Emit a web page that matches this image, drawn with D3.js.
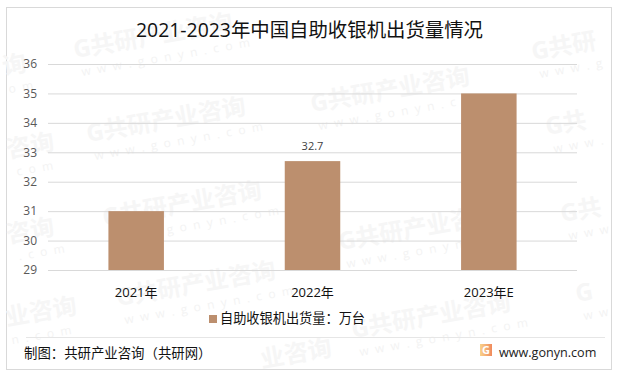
<!DOCTYPE html>
<html>
<head>
<meta charset="utf-8">
<script src="https://cdn.jsdelivr.net/npm/d3@7/dist/d3.min.js"></script>
<style>
  html, body { margin: 0; padding: 0; background: #fff; }
  text { font-family: "Open Sans", "Noto Sans CJK SC", sans-serif; }
</style>
</head>
<body>
<div id="chart"></div>
<script>
const years = ["2021年", "2022年", "2023年E"];
const shipments = [31, 32.7, 35];
const shownLabels = [false, true, false];
const yTicks = [29, 30, 31, 32, 33, 34, 35, 36];
const seriesName = "自助收银机出货量：万台";
const titleText = "2021-2023年中国自助收银机出货量情况";
const sourceText = "制图：共研产业咨询（共研网）";
const siteText = "www.gonyn.com";

const width = 619, height = 377;
const barColor = "#bc8f6e";
const gridColor = "#d9d9d9";

const svg = d3.select("#chart").append("svg")
  .attr("width", width)
  .attr("height", height)
  .style("display", "block");

// Outer frame
svg.append("rect")
  .attr("x", 6.5).attr("y", 7.5)
  .attr("width", 605).attr("height", 362)
  .attr("fill", "#fff")
  .attr("stroke", "#d9d9d9")
  .attr("stroke-width", 1);

// Watermarks sit behind everything, edge ones only carry the part that shows
const stamps = [
  [75, 58, "G共研产业咨询", "www.gonyn.com", 4],
  [88, 142, "G共研产业咨询", "www.gonyn.com", 4],
  [312, 112, "G共研产业咨询", "www.gonyn.com", 4],
  [104, 226, "G共研产业咨询", "www.gonyn.com", 4],
  [118, 306, "G共研产业咨询", "www.gonyn.com", 4],
  [340, 250, "G共研产业咨询", "www.gonyn.com", 4],
  [353, 338, "G共研产业咨询", "www.gonyn.com", 4],
  [533, 60, "G共研", "www.g", 4],
  [547, 135, "G共", "www.", 4],
  [562, 222, "G共", "www", 4],
  [577, 302, "G", "ww", 4],
  [4, 75, "询", "om", 2],
  [8, 158, "咨询", "com", 6],
  [8, 243, "咨询", ".com", 8],
  [7, 326, "业咨询", "n.com", 2],
  [262, 368, "业咨询", "", 0]
];
const marks = svg.append("g").selectAll("g")
  .data(stamps)
  .join("g")
  .attr("transform", d => `translate(${d[0]},${d[1]}) rotate(-10)`);
marks.append("text")
  .attr("font-size", 24).attr("font-weight", 700).attr("fill", "#f6f6f6")
  .text(d => d[2]);
marks.append("text")
  .attr("x", d => d[4]).attr("y", 19)
  .attr("font-size", 12).attr("letter-spacing", 6.5).attr("fill", "#f3f3f3")
  .text(d => d[3]);

// Scales
const x = d3.scaleBand().domain(years).range([48, 577]);
const y = d3.scaleLinear().domain([29, 36]).range([270, 64]);
const barWidth = 55.5;

// Gridlines and y labels
const yAxis = d3.axisLeft(y)
  .tickValues(yTicks)
  .tickSize(-(577 - 48))
  .tickPadding(11)
  .tickFormat(d3.format("d"));
const yGroup = svg.append("g")
  .attr("transform", "translate(48,0)")
  .call(yAxis);
yGroup.select(".domain").remove();
yGroup.selectAll("line").attr("stroke", gridColor).attr("stroke-width", 1);
yGroup.selectAll("text")
  .attr("fill", "#595959")
  .style("font-size", "12px");

// Bars
svg.append("g").selectAll("rect")
  .data(years)
  .join("rect")
  .attr("x", d => x(d) + (x.bandwidth() - barWidth) / 2)
  .attr("y", (d, i) => y(shipments[i]))
  .attr("width", barWidth)
  .attr("height", (d, i) => y(29) - y(shipments[i]))
  .attr("fill", barColor);

// Only 2022 carries a value label
svg.append("g").selectAll("text")
  .data(years.filter((d, i) => shownLabels[i]))
  .join("text")
  .attr("x", d => x(d) + x.bandwidth() / 2)
  .attr("y", d => y(shipments[years.indexOf(d)]) - 11)
  .attr("text-anchor", "middle")
  .attr("fill", "#404040")
  .style("font-size", "11px")
  .text(d => shipments[years.indexOf(d)]);

// Category labels
const xAxis = d3.axisBottom(x).tickSize(0).tickPadding(18);
const xGroup = svg.append("g")
  .attr("transform", "translate(0,270)")
  .call(xAxis);
xGroup.select(".domain").remove();
xGroup.selectAll("text")
  .attr("fill", "#111")
  .style("font-size", "13px");

// Title
svg.append("text")
  .attr("x", 309.5)
  .attr("y", 37)
  .attr("text-anchor", "middle")
  .attr("fill", "#111")
  .style("font-size", "19.4px")
  .text(titleText);

// Legend
svg.append("rect")
  .attr("x", 209).attr("y", 315)
  .attr("width", 8).attr("height", 8)
  .attr("fill", barColor);
svg.append("text")
  .attr("x", 220)
  .attr("y", 323)
  .attr("fill", "#111")
  .style("font-size", "13.2px")
  .text(seriesName);

// Footer
svg.append("line")
  .attr("x1", 26).attr("x2", 605)
  .attr("y1", 337.5).attr("y2", 337.5)
  .attr("stroke", "#e6e6e6");
svg.append("text")
  .attr("x", 24)
  .attr("y", 358)
  .attr("fill", "#111")
  .style("font-size", "13.4px")
  .text(sourceText);

const grad = svg.append("defs").append("linearGradient").attr("id", "logoGrad");
grad.append("stop").attr("offset", "0%").attr("stop-color", "#f9d28a");
grad.append("stop").attr("offset", "100%").attr("stop-color", "#f08a5d");
svg.append("rect")
  .attr("x", 480).attr("y", 344)
  .attr("width", 12).attr("height", 12)
  .attr("fill", "url(#logoGrad)");
svg.append("text")
  .attr("x", 486).attr("y", 354)
  .attr("text-anchor", "middle")
  .attr("fill", "#fff")
  .attr("font-weight", 700)
  .style("font-size", "11px")
  .text("G");
svg.append("text")
  .attr("x", 499)
  .attr("y", 357)
  .attr("fill", "#222")
  .style("font-size", "12.6px")
  .text(siteText);
</script>
</body>
</html>
